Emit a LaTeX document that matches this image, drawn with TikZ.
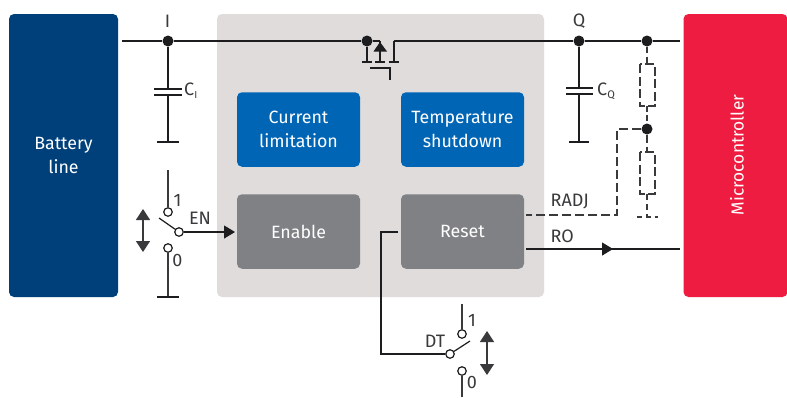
\documentclass[tikz,border=0pt]{standalone}
\usepackage{fontspec}
\setmainfont{Fira Sans}[Scale=1]
\usetikzlibrary{arrows.meta}
\definecolor{navy}{HTML}{00407A}
\definecolor{crim}{HTML}{EE1C40}
\definecolor{chip}{HTML}{E0DCDC}
\definecolor{blu}{HTML}{0065B5}
\definecolor{gry}{HTML}{808184}
\definecolor{ink}{HTML}{1D1D1F}
\definecolor{txt}{HTML}{3A3A3C}
\tikzset{
 x=1pt,y=-1pt,
 panel/.style={rounded corners=5pt,minimum height=74.5pt,text width=116pt,align=center,text=white,font=\fontsize{17.8}{23.5}\selectfont,inner sep=0pt},
 blockb/.style={panel,fill=blu,minimum width=123pt},
 blockg/.style={panel,fill=gry,minimum width=123pt},
 side/.style={rounded corners=5pt,minimum width=109pt,minimum height=283pt,text=white,inner sep=0pt,align=center,font=\fontsize{17.8}{23.5}\selectfont},
 wire/.style={draw=ink,line width=1.2pt},
 gwire/.style={draw=txt,line width=1.2pt},
 dashw/.style={draw=txt,line width=1.3pt,dash pattern=on 6pt off 4pt},
 dotn/.style={circle,fill=ink,draw=none,minimum size=11pt,inner sep=0pt},
 cont/.style={circle,draw=ink,fill=white,line width=1.2pt,minimum size=8.5pt,inner sep=0pt},
 lab/.style={text=txt,font=\fontsize{18}{20}\selectfont,inner sep=0pt},
 arr/.style={-{Triangle[length=11pt,width=13pt]}},
 darr/.style={{Triangle[length=11pt,width=14pt]}-{Triangle[length=11pt,width=14pt]},draw=txt,line width=1.3pt},
}
\begin{document}
\begin{tikzpicture}
\useasboundingbox (0,0) rectangle (787,397);
\fill[white] (0,0) rectangle (787,397);
\node[side,fill=navy,minimum width=109pt] (bat) at (63.5,155.5) {Battery\\line};
\node[side,fill=crim,minimum width=104pt] (mcu) at (735.5,155.5) {};
\node[text=white,rotate=90,font=\fontsize{17.4}{20}\selectfont] (mcut) at (737,155) {Microcontroller};
\node[rounded corners=5pt,fill=chip,minimum width=327pt,minimum height=283pt,inner sep=0pt] (chipbg) at (380.5,155.5) {};
\node[blockb] (cur) at (298.5,129.5) {Current\\limitation};
\node[blockb] (tem) at (462.5,129.5) {Temperature\\shutdown};
\node[blockg] (ena) at (298.5,231.5) {Enable};
\node[blockg] (res) at (462.5,231.5) {Reset};

% main rail
\coordinate (railL) at (122,41);
\coordinate (railR) at (680,41);
\node[dotn] (dI) at (168,41) {};
\node[dotn] (dM) at (367,41) {};
\node[dotn] (dQ) at (579,41) {};
\node[dotn] (dR) at (647,41) {};
\node[dotn] (dA) at (647,129) {};
\coordinate (mA) at (380,41);
\coordinate (mD) at (394,41);
\draw[wire] (railL) -- (dI) -- (dM) -- (mA);
\draw[wire] (mD) -- (dQ) -- (dR) -- (railR);
% mosfet
\coordinate (ms) at (367,62);
\coordinate (mb) at (380,62);
\coordinate (md) at (394,62);
\draw[wire] (dM) -- (ms);
\draw[wire] (mA) -- (mb);
\draw[wire] (mD) -- (md);
\draw[wire,line width=1.6pt] (362,62) -- (372,62);
\draw[wire,line width=1.6pt] (375,62) -- (385,62);
\draw[wire,line width=1.6pt] (389,62) -- (399,62);
\fill[ink] (380,42) -- (387,51.5) -- (373.5,51.5) -- cycle;
\coordinate (g1) at (370,68);
\coordinate (g2) at (390,68);
\coordinate (g3) at (390,80);
\draw[wire] (g1) -- (g2) -- (g3);
% CI
\coordinate (ci1) at (168,89);
\coordinate (ci2) at (168,95);
\coordinate (ci3) at (168,142);
\draw[wire] (dI) -- (ci1) (ci2) -- (ci3);
\draw[wire,line width=1.6pt] (154,89) -- (182,89) (154,95) -- (182,95) (157,142) -- (179,142);
% CQ
\coordinate (cq1) at (579,88);
\coordinate (cq2) at (579,94);
\coordinate (cq3) at (579,142);
\draw[wire] (dQ) -- (cq1) (cq2) -- (cq3);
\draw[wire,line width=1.6pt] (566,88) -- (593,88) (566,94) -- (593,94) (569,142) -- (589,142);
% dashed resistors
\coordinate (rb1) at (647,64);
\coordinate (rb2) at (647,106);
\coordinate (rb3) at (647,152);
\coordinate (rb4) at (647,194);
\coordinate (rb5) at (647,217);
\draw[dashw] (dR) -- (rb1);
\draw[dashw,dash pattern=on 9pt off 3.5pt] (640,64) rectangle (655,106);
\draw[dashw,dash pattern=on 6pt off 3pt] (rb2) -- (dA);
\draw[dashw,dash pattern=on 8pt off 4pt] (dA) -- (rb3);
\draw[dashw,dash pattern=on 9pt off 3.5pt] (640,152) rectangle (655,194);
\draw[dashw] (rb4) -- (rb5);
\draw[dashw,dash pattern=on 5pt off 4pt] (637,217) -- (658,217);
% RADJ
\coordinate (ra1) at (617,129);
\coordinate (ra2) at (617,215);
\coordinate (ra3) at (526,215);
\draw[dashw,dash pattern=on 9pt off 4pt] (dA) -- (ra1) -- (ra2) -- (ra3);
% RO
\coordinate (ro1) at (526,249);
\coordinate (ro2) at (680,249);
\coordinate (ro3) at (613,249);
\draw[wire] (ro1) -- (ro2);
\draw[wire,arr] (ro1) -- (ro3);
% EN switch
\node[cont] (en) at (179,232) {};
\node[cont] (en1) at (168,212) {};
\node[cont] (en0) at (168,248) {};
\coordinate (enarm) at (159,218);
\coordinate (entop) at (168,170);
\coordinate (enbot) at (168,297);
\draw[gwire] (entop) -- (en1);
\draw[gwire] (en0) -- (enbot);
\draw[wire,line width=1.6pt] (157,297) -- (179,297);
\draw[wire] (en) -- (enarm);
\coordinate (enhead) at (235,232);
\draw[wire,arr] (en) -- (enhead);
\coordinate (ea) at (143,209);
\coordinate (eb) at (143,252);
\draw[darr] (ea) -- (eb);
% DT switch
\coordinate (rs1) at (398,232);
\coordinate (rs2) at (381,232);
\coordinate (rs3) at (381,354);
\node[cont] (dt) at (450,354) {};
\node[cont] (dt1) at (462,334) {};
\node[cont] (dt0) at (462,371) {};
\coordinate (dtarm) at (470,341);
\coordinate (dttop) at (462,304);
\coordinate (dtbot) at (462,397);
\draw[wire] (rs1) -- (rs2) -- (rs3) -- (dt);
\draw[wire] (dt) -- (dtarm);
\draw[gwire] (dttop) -- (dt1);
\draw[gwire] (dt0) -- (dtbot);
\coordinate (da) at (487,331);
\coordinate (db) at (487,375);
\draw[darr] (da) -- (db);
% labels
\node[lab] (lI) at (167.5,21) {I};
\node[lab] (lQ) at (579,21) {Q};
\node[lab,anchor=west] (lCI) at (184,91) {C\raisebox{-3pt}{\fontsize{10}{10}\selectfont I}};
\node[lab,anchor=west] (lCQ) at (597,91) {C\raisebox{-3pt}{\fontsize{11}{11}\selectfont Q}};
\node[lab] (l1a) at (177.5,200) {1};
\node[lab] (l0a) at (177.5,260) {0};
\node[lab] (lEN) at (200,218) {EN};
\node[lab,anchor=west] (lRA) at (550.5,202) {RADJ};
\node[lab,anchor=west] (lRO) at (550.5,236) {RO};
\node[lab] (lDT) at (435,341) {DT};
\node[lab] (l1b) at (472,320) {1};
\node[lab] (l0b) at (472,382) {0};
\end{tikzpicture}
\end{document}
